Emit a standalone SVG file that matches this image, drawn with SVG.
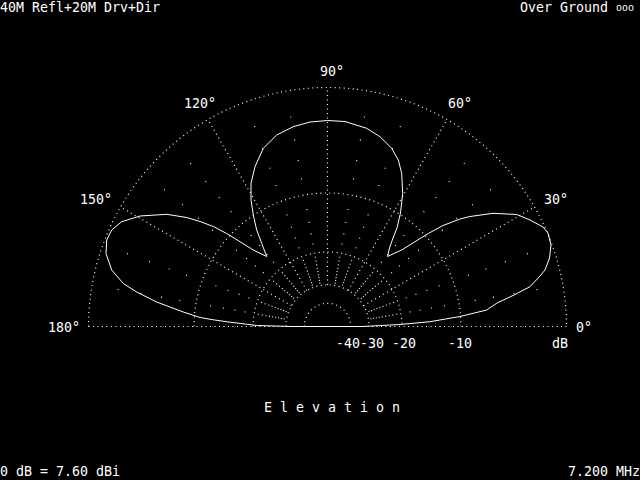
<svg xmlns="http://www.w3.org/2000/svg" xmlns:xlink="http://www.w3.org/1999/xlink" width="640" height="480" viewBox="0 0 640 480">
<style>
.t{fill:#fff;font-family:"DejaVu Sans Mono","Liberation Mono",monospace;font-size:13.3px}
.g{fill:none;stroke:#fff;stroke-width:1.15;stroke-dasharray:1 3.5}
.m{fill:none;stroke:#fff;stroke-width:1.15;stroke-dasharray:0 43.61 1 1.65 1 1.80 1 1.98 1 2.15 1 2.34 1 2.54 1 2.76 1 2.98 1 12.43 1 9.34 1 10.63 1 12.07 1 30.17 1 17.54 1 19.82 1 22.40 1 100}
.p{fill:none;stroke:#fff;stroke-width:1;stroke-linejoin:round}
</style>
<defs>
<line id="major" x1="41.6" y1="0" x2="239" y2="0" class="g"/>
<line id="minor" x1="0" y1="0" x2="239" y2="0" class="m"/>
</defs>
<rect width="640" height="480" fill="#000"/>
<g id="grid">
<path class="g" d="M88.5 326.5A239 239 0 0 1 566.5 326.5"/>
<path class="g" d="M194 326.5A133.5 133.5 0 0 1 461 326.5"/>
<path class="g" d="M253 326.5A74.5 74.5 0 0 1 402 326.5"/>
<path class="g" d="M285.9 326.5A41.6 41.6 0 0 1 369.1 326.5"/>
<path class="g" d="M304.3 326.5A23.2 23.2 0 0 1 350.7 326.5"/>
<path class="g" d="M88.5 326.5H566.5"/>
<g transform="translate(327.5 326.5)">
<use xlink:href="#major" transform="rotate(-30)"/>
<use xlink:href="#major" transform="rotate(-60)"/>
<use xlink:href="#major" transform="rotate(-90)"/>
<use xlink:href="#major" transform="rotate(-120)"/>
<use xlink:href="#major" transform="rotate(-150)"/>
<use xlink:href="#minor" transform="rotate(-10)"/>
<use xlink:href="#minor" transform="rotate(-20)"/>
<use xlink:href="#minor" transform="rotate(-40)"/>
<use xlink:href="#minor" transform="rotate(-50)"/>
<use xlink:href="#minor" transform="rotate(-70)"/>
<use xlink:href="#minor" transform="rotate(-80)"/>
<use xlink:href="#minor" transform="rotate(-100)"/>
<use xlink:href="#minor" transform="rotate(-110)"/>
<use xlink:href="#minor" transform="rotate(-130)"/>
<use xlink:href="#minor" transform="rotate(-140)"/>
<use xlink:href="#minor" transform="rotate(-160)"/>
<use xlink:href="#minor" transform="rotate(-170)"/>
</g>
</g>
<path id="pattern" class="p" d="M327.5 326.5L293 326.5L256.7 325.5L246.7 324.2L230 322.2L213.3 319.8L200 317.5L183.3 312L156.7 302L136.7 292L123.3 283.5L111.7 270L106 253.5L106.7 240L111.7 230L121.7 221.7L140 216L166.7 214.3L186.7 217.5L200 221.5L213.3 226.5L226.7 233.5L240 241.7L253.3 250L266.7 256.5L261.7 243.3L256.7 230L253.3 215L251 200L251 183.3L255 166.7L263.3 148.3L276.7 135L293.3 126.7L310 122L327.5 120.5L345 121.5L366.7 128.3L380 136.7L391.7 148.3L398.3 160L401.7 173.3L402.7 193.3L400.5 213L397 228L393 238L389.5 248L387.5 256.5L401.7 250L415 241.7L428.3 233.5L443 225.5L460 219L470 216.5L493 213.3L516.7 214.5L530 220L543 227L548 233L551 245L549.5 258L545 270L540 276L530 286.7L513 295.5L497 303L486.7 310L460 316.5L430 321.7L400 324.5L362 326.5Z"/>
<g id="labels">
<text class="t" x="0" y="12">40M Refl+20M Drv+Dir</text>
<text class="t" x="520" y="12">Over Ground <tspan font-size="10" dy="-1.5">ooo</tspan></text>
<text class="t" x="320" y="76">90°</text>
<text class="t" x="184" y="108">120°</text>
<text class="t" x="448" y="108">60°</text>
<text class="t" x="80" y="204">150°</text>
<text class="t" x="544" y="204">30°</text>
<text class="t" x="48" y="332">180°</text>
<text class="t" x="576" y="332">0°</text>
<text class="t" x="336" y="348">-40-30 -20</text>
<text class="t" x="448" y="348">-10</text>
<text class="t" x="552" y="348">dB</text>
<text class="t" x="264" y="412">E l e v a t i o n</text>
<text class="t" x="0" y="476">0 dB = 7.60 dBi</text>
<text class="t" x="568" y="476">7.200 MHz</text>
</g>
</svg>
